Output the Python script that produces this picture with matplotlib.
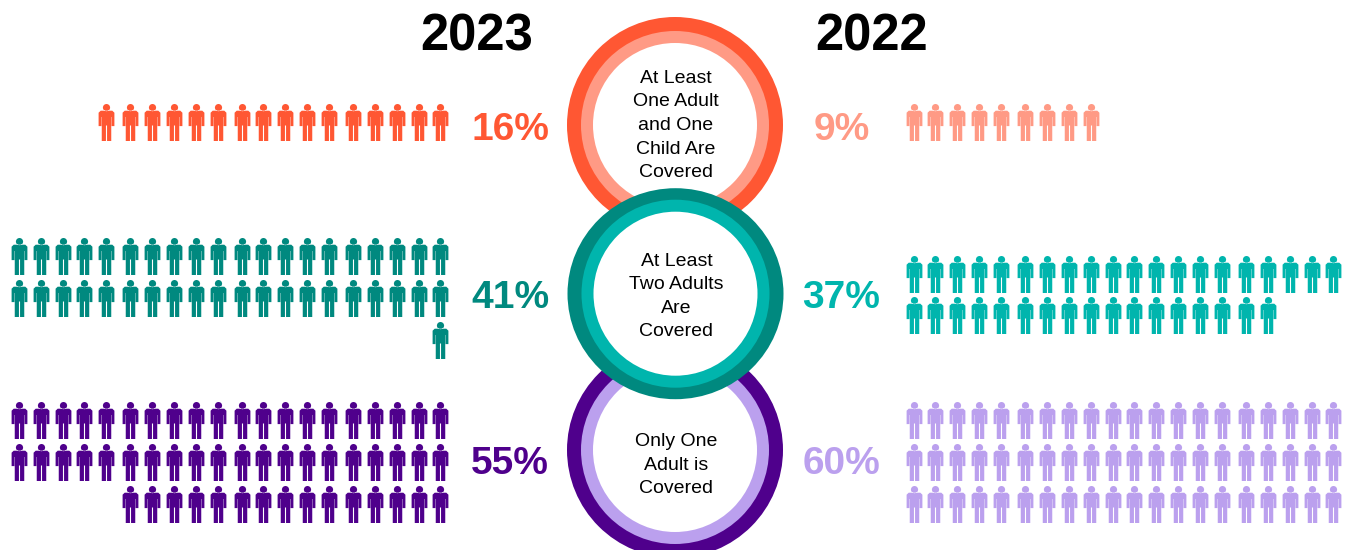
import matplotlib
matplotlib.use("Agg")
import matplotlib.pyplot as plt
from matplotlib.patches import Circle, Ellipse
from matplotlib.path import Path

# ---- data
years = ["2023", "2022"]
categories = ["At Least\nOne Adult\nand One\nChild Are\nCovered",
              "At Least\nTwo Adults\nAre\nCovered",
              "Only One\nAdult is\nCovered"]
pct_2023 = [16, 41, 55]
pct_2022 = [9, 37, 60]

dark = ["#FF5733", "#00897F", "#4F008C"]
light = ["#FF9A85", "#00B5AD", "#BBA0EE"]

# ---- layout (pixels, y goes down)
W, H = 1351, 550
per_row = 20
col_step = 21.9
circle_x = [675, 675.5, 675]
circle_y = [125, 293.7, 450]
outer_h = [216, 211, 216]
rows_2023 = [[122], [256, 298, 340], [420, 462, 504]]
rows_2022 = [[122], [274, 315], [420, 462, 504]]
left_x0 = 18.7
right_x0 = 913.5
left_gaps = [5, 10, 15]
right_gaps = [5, 15]


def person():
    # little pictogram, y up, centred on 0 (height 37)
    k = Path.unit_circle()
    head = Path(k.vertices * 3.6 + [0, 14.9], k.codes)
    body = [(-5.8, 11.8), (5.8, 11.8), (7.9, 9.8), (7.9, -3.6), (5.1, -3.6), (5.1, 5.5),
            (4.75, 5.5), (4.75, -18.5), (0.55, -18.5), (0.55, -3.0), (-0.55, -3.0),
            (-0.55, -18.5), (-4.75, -18.5), (-4.75, 5.5), (-5.1, 5.5), (-5.1, -3.6),
            (-7.9, -3.6), (-7.9, 9.8), (-5.8, 11.8)]
    codes = [Path.MOVETO] + [Path.LINETO] * (len(body) - 2) + [Path.CLOSEPOLY]
    return Path.make_compound_path(head, Path(body, codes))


def columns(x0, gaps):
    return [x0 + i * col_step + sum(1.9 for g in gaps if i >= g) for i in range(per_row)]


def draw_people(ax, n, rows, xs, color, right_align):
    xp, yp = [], []
    for y in rows:
        m = min(n, per_row)
        n -= m
        use = xs[-m:] if right_align else xs[:m]
        xp += use
        yp += [y] * m
    pts = ax.scatter(xp, yp, marker=person(), s=(37 * 0.72) ** 2, color=color, linewidths=0)
    pts.set_snap(False)


fig = plt.figure(figsize=(W / 100, H / 100), dpi=100)
ax = fig.add_axes([0, 0, 1, 1])
ax.set_xlim(0, W)
ax.set_ylim(H, 0)
ax.axis("off")

ax.text(477, 50.5, years[0], fontsize=36.5, fontweight="bold", family="Liberation Sans", ha="center", va="baseline", color="black")
ax.text(872, 50.5, years[1], fontsize=36.5, fontweight="bold", family="Liberation Sans", ha="center", va="baseline", color="black")

# rings: top, bottom then middle over both
for i in [0, 2, 1]:
    x, y = circle_x[i], circle_y[i]
    ax.add_patch(Ellipse((x, y), 216, outer_h[i], color=dark[i], lw=0, zorder=2))
    ax.add_patch(Circle((x, y), 94, color=light[i], lw=0, zorder=2))
    ax.add_patch(Circle((x, y), 82, color="white", lw=0, zorder=2))

text_y = [125.5, 296.5, 465]
for i in [0, 2, 1]:
    ax.text(circle_x[i] + 1, text_y[i], categories[i], fontsize=14, family="Liberation Sans", ha="center", va="center",
            linespacing=1.5, color="black", zorder=3)

label_y = [139.5, 307.5, 473.5]
for i in range(3):
    draw_people(ax, pct_2023[i], rows_2023[i], columns(left_x0, left_gaps), dark[i], True)
    draw_people(ax, pct_2022[i], rows_2022[i], columns(right_x0, right_gaps), light[i], False)
    ax.text(510, label_y[i], f"{pct_2023[i]}%", fontsize=28, fontweight="bold", family="Liberation Sans",
            ha="center", va="baseline", color=dark[i])
    ax.text(841.5, label_y[i], f"{pct_2022[i]}%", fontsize=28, fontweight="bold", family="Liberation Sans",
            ha="center", va="baseline", color=light[i])

fig.savefig("out.png", dpi=100)
